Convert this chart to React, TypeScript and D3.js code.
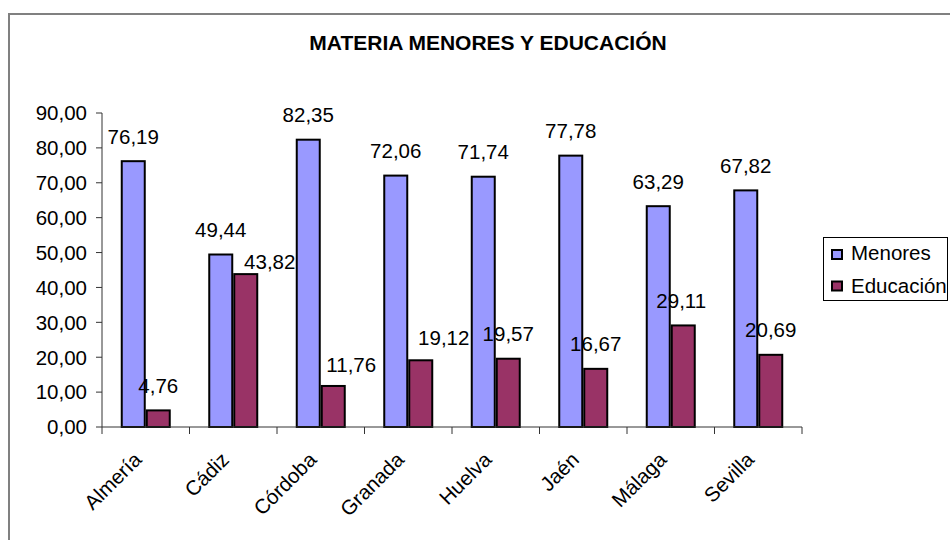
import React from "react";
import * as d3 from "d3";

const title = "MATERIA MENORES Y EDUCACIÓN";
const categories = ["Almería", "Cádiz", "Córdoba", "Granada", "Huelva", "Jaén", "Málaga", "Sevilla"];
const seriesNames = ["Menores", "Educación"];
const menores = [76.19, 49.44, 82.35, 72.06, 71.74, 77.78, 63.29, 67.82];
const educacion = [4.76, 43.82, 11.76, 19.12, 19.57, 16.67, 29.11, 20.69];
const yTicks = [0, 10, 20, 30, 40, 50, 60, 70, 80, 90];

// layout-only: manual nudges of Educación labels as seen in the reference
const eduLabelDx = [0, 24, 18, 23, 0, 0, -2, 0];
const eduLabelDy = [0, 12.5, 3.5, 2, 0, 0, 0, 0];

const colors = ["#9999FF", "#993366"];
const FONT = "'Liberation Sans', Arial, sans-serif";
const fmt = (v: number) => v.toFixed(2).replace(".", ",");

export default function App() {
  const W = 950, H = 540;
  const x0 = 102, x1 = 802, yTop = 113, yBot = 427;
  const x = d3.scaleBand<string>().domain(categories).range([x0, x1]).paddingInner(0).paddingOuter(0);
  const xs = d3.scaleBand<string>().domain(seriesNames).range([0, x.bandwidth()]).paddingInner(0).paddingOuter(0.75);
  const y = d3.scaleLinear().domain([0, 90]).range([yBot, yTop]);
  const bw = xs.bandwidth();
  const values = [menores, educacion];
  const fs = 20.5;

  return (
    <svg width={W} height={H} style={{ position: "absolute", left: 0, top: 0, background: "#fff" }} fontFamily={FONT}>
      <rect x={0} y={0} width={W} height={H} fill="#fff" />
      <rect x={9} y={14} width={1000} height={600} fill="none" stroke="#808080" strokeWidth={2} />
      <text x={488} y={50} textAnchor="middle" fontWeight="bold" fontSize={21} fill="#000">{title}</text>

      {/* y axis */}
      <line x1={x0} x2={x0} y1={yTop} y2={yBot} stroke="#333" strokeWidth={1} />
      {yTicks.map((t) => (
        <g key={t}>
          <line x1={x0 - 6} x2={x0} y1={y(t)} y2={y(t)} stroke="#333" strokeWidth={1} />
          <text x={87} y={y(t)} dy="0.36em" textAnchor="end" fontSize={fs} fill="#000">{fmt(t)}</text>
        </g>
      ))}

      {/* bars and labels, drawn category by category */}
      {categories.map((c, i) => {
        const cx = x(c)!;
        return (
          <g key={c}>
            {seriesNames.map((s, j) => {
              const v = values[j][i];
              const bx = cx + xs(s)!;
              return (
                <rect key={s} x={bx + 1} y={y(v)} width={bw - 2} height={yBot - y(v)}
                  fill={colors[j]} stroke="#000" strokeWidth={2} />
              );
            })}
            {seriesNames.map((s, j) => {
              const v = values[j][i];
              const bx = cx + xs(s)! + bw / 2;
              const dx = j === 1 ? eduLabelDx[i] : 0;
              const dy = j === 1 ? eduLabelDy[i] : 0;
              return (
                <text key={s + "l"} x={bx + dx} y={y(v) - 17.5 + dy} textAnchor="middle" fontSize={fs} fill="#000">{fmt(v)}</text>
              );
            })}
          </g>
        );
      })}

      {/* x axis */}
      <line x1={x0} x2={x1} y1={yBot} y2={yBot} stroke="#333" strokeWidth={1} />
      {categories.concat(["_end"]).map((c, i) => {
        const px = x0 + i * x.bandwidth();
        return <line key={c} x1={px} x2={px} y1={yBot} y2={yBot + 7} stroke="#333" strokeWidth={1} />;
      })}
      {categories.map((c) => {
        const cx = x(c)! + x.bandwidth() / 2;
        return (
          <text key={c} transform={`translate(${cx - 3},${461}) rotate(-45)`} textAnchor="end" fontSize={fs} fill="#000">{c}</text>
        );
      })}

      {/* legend */}
      <rect x={823.5} y={237.5} width={124} height={63} fill="#fff" stroke="#000" strokeWidth={1} />
      {seriesNames.map((s, j) => (
        <g key={s}>
          <rect x={832} y={250 + j * 31.5} width={10} height={9} fill={colors[j]} stroke="#000" strokeWidth={2} />
          <text x={851} y={260 + j * 33} fontSize={fs} fill="#000">{s}</text>
        </g>
      ))}
    </svg>
  );
}
